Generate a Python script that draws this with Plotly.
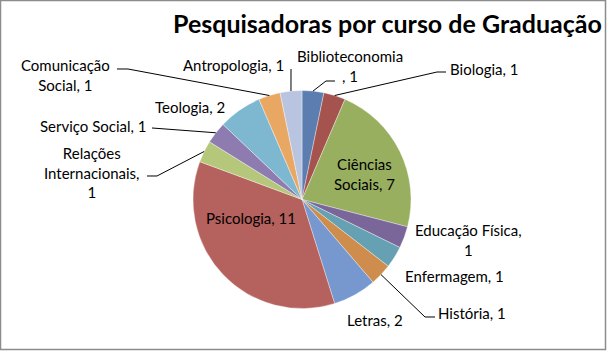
import math
import plotly.graph_objects as go

W, H = 607, 351

courses = ["Biblioteconomia", "Biologia", "Ciências Sociais", "Educação Física",
           "Enfermagem", "História", "Letras", "Psicologia",
           "Relações Internacionais", "Serviço Social", "Teologia",
           "Comunicação Social", "Antropologia"]
counts = [1, 1, 7, 1, 1, 1, 2, 11, 1, 1, 2, 1, 1]
colors = ["#5B7DB0", "#A5534F", "#98AF60", "#7B6699", "#65A0B3", "#CF8D4D",
          "#7698CE", "#B5615D", "#B4C77A", "#8E7CB1", "#7DB8D0", "#E9A764", "#B9C5E0"]

# label text (as shown, with Excel-style wrapping) and label centre in pixels
label_text = {
    "Biblioteconomia": "Biblioteconomia<br>, 1",
    "Biologia": "Biologia, 1",
    "Ciências Sociais": "Ciências<br>Sociais, 7",
    "Educação Física": "Educação Física,<br>1",
    "Enfermagem": "Enfermagem, 1",
    "História": "História, 1",
    "Letras": "Letras, 2",
    "Psicologia": "Psicologia, 11",
    "Relações Internacionais": "Relações<br>Internacionais,<br>1",
    "Serviço Social": "Serviço Social, 1",
    "Teologia": "Teologia, 2",
    "Comunicação Social": "Comunicação<br>Social, 1",
    "Antropologia": "Antropologia, 1",
}
label_pos = {
    "Biblioteconomia": (350, 66),
    "Biologia": (484, 69),
    "Ciências Sociais": (364, 174),
    "Educação Física": (468, 240),
    "Enfermagem": (455, 276),
    "História": (472, 313),
    "Letras": (375, 320),
    "Psicologia": (251, 218),
    "Relações Internacionais": (92, 173),
    "Serviço Social": (93, 126),
    "Teologia": (190, 107),
    "Comunicação Social": (65, 75),
    "Antropologia": (233, 65),
}
# leader line elbows (pixel coords) : list of points from label side
leaders = {
    "Biblioteconomia": [(335, 81), (326, 81)],
    "Biologia": [(446, 72), (437, 72)],
    "História": [(435, 317), (425, 317)],
    "Relações Internacionais": [(147, 176), (157, 176)],
    "Serviço Social": [(152, 128)],
    "Comunicação Social": [(117, 69), (128, 69)],
    "Antropologia": [(291, 69)],
}

# pie geometry (pixels)
cx, cy, R = 302, 199.5, 109


def px(x):
    return x / W


def py(y):
    return 1 - y / H


fig = go.Figure(go.Pie(
    labels=courses, values=counts, sort=False, direction="clockwise", rotation=0,
    marker=dict(colors=colors, line=dict(color="rgba(255,255,255,0.6)", width=0.6)),
    textinfo="none", hoverinfo="label+value", showlegend=False,
    domain=dict(x=[px(cx - R), px(cx + R)], y=[py(cy + R), py(cy - R)]),
))

annotations = []
for c in courses:
    x, y = label_pos[c]
    annotations.append(dict(
        text=label_text[c], x=px(x), y=py(y), xref="paper", yref="paper",
        showarrow=False, xanchor="center", yanchor="middle", align="center",
        font=dict(family="Lato", size=15, color="#000000"),
    ))

annotations.append(dict(
    text="<b>Pesquisadoras por curso de Graduação</b>", x=px(387), y=py(23),
    xref="paper", yref="paper", showarrow=False, xanchor="center", yanchor="middle",
    font=dict(family="Lato", size=25, color="#000000"),
))

total = sum(counts)
shapes = []
cum = 0
for c, v in zip(courses, counts):
    mid = (cum + v / 2) / total * 2 * math.pi
    cum += v
    if c not in leaders:
        continue
    pts = leaders[c] + [(cx + R * math.sin(mid), cy - R * math.cos(mid))]
    path = "M " + " L ".join(f"{px(a):.5f},{py(b):.5f}" for a, b in pts)
    shapes.append(dict(type="path", path=path, xref="paper", yref="paper",
                       line=dict(color="#000000", width=1)))

shapes.append(dict(type="rect", xref="paper", yref="paper",
                   x0=px(0.5), x1=px(W - 1.5), y0=py(H - 1.5), y1=py(0.5),
                   line=dict(color="#8C8C8C", width=1.5)))

fig.update_layout(
    width=W, height=H, margin=dict(l=0, r=0, t=0, b=0),
    paper_bgcolor="white", plot_bgcolor="white",
    annotations=annotations, shapes=shapes,
)

fig.write_html("out.html")
